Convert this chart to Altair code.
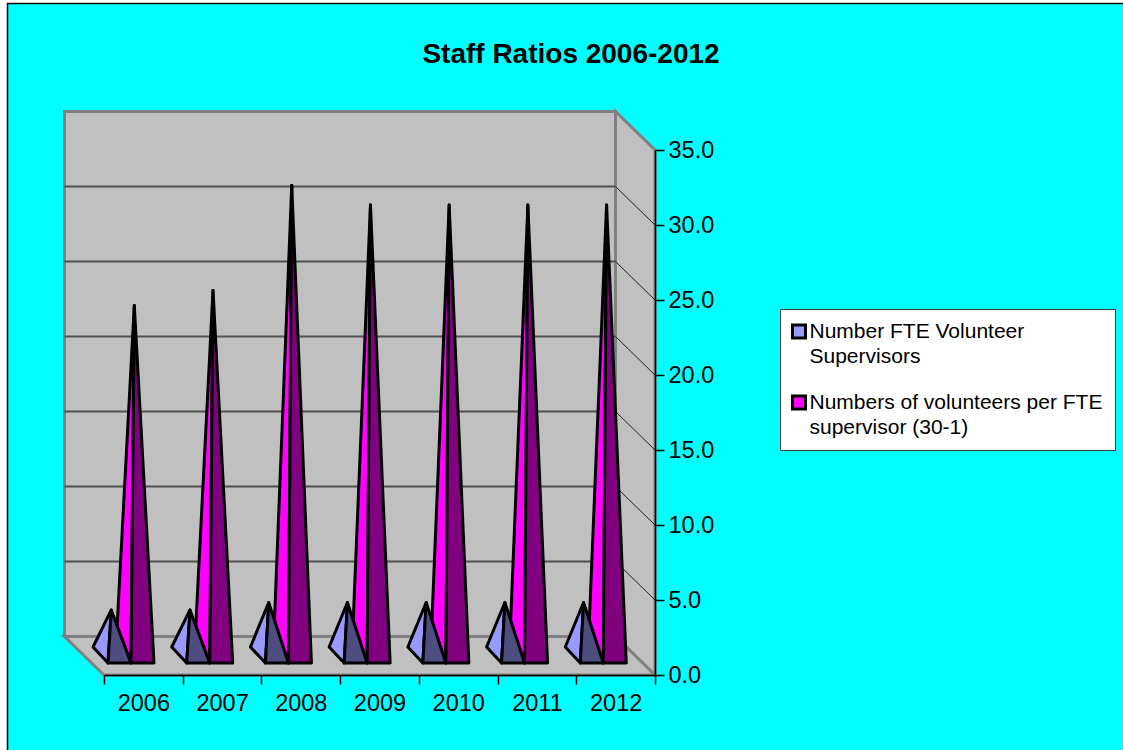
import altair as alt
import pandas as pd

# Series values, one per year
years = [2006, 2007, 2008, 2009, 2010, 2011, 2012]
supervisors = [3.0, 3.0, 3.5, 3.5, 3.5, 3.5, 3.5]
volunteers_per_fte = [23.3, 24.3, 31.3, 30.0, 30.0, 30.0, 30.0]
series_names = [
    "Number FTE Volunteer|Supervisors",
    "Numbers of volunteers per FTE|supervisor (30-1)",
]
light_fill = ["#9999FF", "#FF00FF"]
dark_fill = ["#4D4D80", "#800080"]
y_ticks = [0, 5, 10, 15, 20, 25, 30, 35]

# Plot box, in pixels, and the unit sizes that follow from it
PLOT_L, PLOT_T, PLOT_R, PLOT_B = 104, 150, 655, 675
CAT = (PLOT_R - PLOT_L) / len(years)
UNIT = (PLOT_B - PLOT_T) / 35

# Oblique depth of the box, in axis units
DEPTH_X = -39.5 / CAT
DEPTH_Y = 38.5 / UNIT


def triangle(pts, group):
    """Split a triangle into x-sorted rows that an area mark can fill."""
    pts = sorted(pts)
    (x0, y0), (x1, y1), (x2, y2) = pts
    t = (x1 - x0) / (x2 - x0)
    across = y0 + t * (y2 - y0)
    return [
        {"x": x0, "y": y0, "y2": y0, "g": group},
        {"x": x1, "y": y1, "y2": across, "g": group},
        {"x": x2, "y": y2, "y2": y2, "g": group},
    ]


def pyramid_faces(values, offset, name, dark):
    """Left and right faces of one series of pyramids."""
    left, right = [], []
    for i, v in enumerate(values):
        c = i + offset / CAT
        front_y = 12 / UNIT
        back_y = 28 / UNIT
        mid_y = (front_y + back_y) / 2
        fl = (c + 4 / CAT, front_y)
        fr = (c + 27 / CAT, front_y)
        bl = (c - 11 / CAT, back_y)
        apex = (c + 7.3 / CAT, mid_y + v)
        for row in triangle([bl, fl, apex], f"{name}{i}l"):
            left.append({**row, "series": name})
        for row in triangle([fl, fr, apex], f"{name}{i}r"):
            right.append({**row, "series": name, "shade": dark})
    return pd.DataFrame(left), pd.DataFrame(right)


n = len(years)
x_scale = alt.Scale(domain=[0, n], nice=False, zero=False)
y_scale = alt.Scale(domain=[0, 35], nice=False, zero=False)
color_scale = alt.Scale(domain=series_names, range=light_fill)

x_axis = alt.Axis(
    values=list(range(n + 1)), labelOffset=CAT / 2, tickSize=9, tickColor="#000000",
    domainColor="#000000", domainWidth=1.5, tickWidth=1.5, grid=False, zindex=1,
    labelFont="Liberation Sans", labelFontSize=23.5, labelColor="#000000", labelPadding=7,
    labelAlign="center", labelFlush=False, title=None,
    labelExpr=f"datum.value < {n} ? '' + ({years[0]} + datum.value) : ''",
)
y_axis = alt.Axis(
    orient="right", values=y_ticks, format=".1f", tickSize=9, tickColor="#000000",
    domainColor="#000000", domainWidth=1.5, tickWidth=1.5, grid=False, zindex=1,
    labelFont="Liberation Sans", labelFontSize=23.5, labelColor="#000000", labelPadding=4,
    title=None,
)
x_enc = alt.X("x:Q", scale=x_scale, axis=x_axis)
y_enc = alt.Y("y:Q", scale=y_scale, axis=y_axis)

# Chart-area backdrop
backdrop = alt.Chart(pd.DataFrame({"a": [0]})).mark_rect(
    fill="#00FFFF", stroke="#000000", strokeWidth=1.5
).encode(
    x=alt.value(7.5 - PLOT_L), x2=alt.value(1140 - PLOT_L),
    y=alt.value(3.5 - PLOT_T), y2=alt.value(770 - PLOT_T),
)

# Back wall of the box
wall = alt.Chart(pd.DataFrame([
    {"x": DEPTH_X, "x2": n + DEPTH_X, "y": DEPTH_Y, "y2": 35 + DEPTH_Y}
])).mark_rect(fill="#C0C0C0", stroke="#808080", strokeWidth=3).encode(
    x=x_enc, x2="x2:Q", y=y_enc, y2="y2:Q"
)

# Side wall and floor as parallelograms
side = alt.Chart(pd.DataFrame([
    {"x": n + DEPTH_X, "y": 35 + DEPTH_Y, "y2": DEPTH_Y},
    {"x": n, "y": 35, "y2": 0},
])).mark_area(fill="#C0C0C0", stroke="#808080", strokeWidth=3).encode(
    x=x_enc, y=y_enc, y2="y2:Q"
)
floor = alt.Chart(pd.DataFrame([
    {"x": DEPTH_X, "y": DEPTH_Y, "y2": DEPTH_Y},
    {"x": 0, "y": DEPTH_Y, "y2": 0},
    {"x": n + DEPTH_X, "y": DEPTH_Y, "y2": 0},
    {"x": n, "y": 0, "y2": 0},
])).mark_area(fill="#C0C0C0", stroke="#808080", strokeWidth=3).encode(
    x=x_enc, y=y_enc, y2="y2:Q"
)

# Gridlines across the back wall and down the side wall
grid_vals = [v for v in y_ticks if 0 < v < 35]
grid_back = alt.Chart(pd.DataFrame([
    {"x": DEPTH_X, "x2": n + DEPTH_X, "y": v + DEPTH_Y} for v in grid_vals
])).mark_rule(color="#505050", strokeWidth=2).encode(x=x_enc, x2="x2:Q", y=y_enc)
side_rows = []
for v in grid_vals:
    side_rows.append({"x": n + DEPTH_X, "y": v + DEPTH_Y, "v": v})
    side_rows.append({"x": n, "y": v, "v": v})
grid_side = alt.Chart(pd.DataFrame(side_rows)).mark_line(
    color="#202020", strokeWidth=1
).encode(x=x_enc, y=y_enc, detail="v:N")

# Pyramids: the tall series first, the short one in front of it
blue_left, blue_right = pyramid_faces(supervisors, 0, series_names[0], dark_fill[0])
pink_left, pink_right = pyramid_faces(volunteers_per_fte, 23, series_names[1], dark_fill[1])


def faces(df, lit):
    base = alt.Chart(df)
    props = dict(stroke="#000000", strokeWidth=3, strokeJoin="round")
    if lit:
        return base.mark_area(**props).encode(
            x=x_enc, y=y_enc, y2="y2:Q", detail="g:N",
            color=alt.Color("series:N", scale=color_scale, legend=alt.Legend(
                orient="none", legendX=780 - PLOT_L, legendY=309 - PLOT_T,
                title=None, symbolType="square", symbolSize=170,
                symbolStrokeColor="#000000", symbolStrokeWidth=3, symbolOffset=-3.5,
                labelFont="Liberation Sans", labelFontSize=21, labelLimit=320,
                labelColor="#000000", labelOffset=0,
                labelExpr="split(datum.label, '|')",
                fillColor="#FFFFFF", strokeColor="#404040", padding=12,
                rowPadding=22,
            )),
        )
    return base.mark_area(**props).encode(
        x=x_enc, y=y_enc, y2="y2:Q", detail="g:N",
        fill=alt.Fill("shade:N", scale=None),
    )


chart = alt.layer(
    backdrop, wall, side, floor, grid_back, grid_side,
    faces(pink_left, True), faces(pink_right, False),
    faces(blue_left, True), faces(blue_right, False),
).properties(
    width=PLOT_R - PLOT_L,
    height=PLOT_B - PLOT_T,
    padding={"left": PLOT_L, "top": PLOT_T, "right": 1123 - PLOT_R, "bottom": 750 - PLOT_B},
    autosize=alt.AutoSizeParams(type="none"),
    background="#FFFFFF",
    title=alt.TitleParams(
        "Staff Ratios 2006-2012", font="Liberation Sans", fontSize=28, fontWeight="bold",
        color="#000000", anchor="middle", offset=-66, dx=191.5,
    ),
).configure_view(stroke=None).configure(style={"guide-label": {"lineHeight": 25}})

chart.save("out.html", embed_options={"renderer": "svg", "actions": False})
